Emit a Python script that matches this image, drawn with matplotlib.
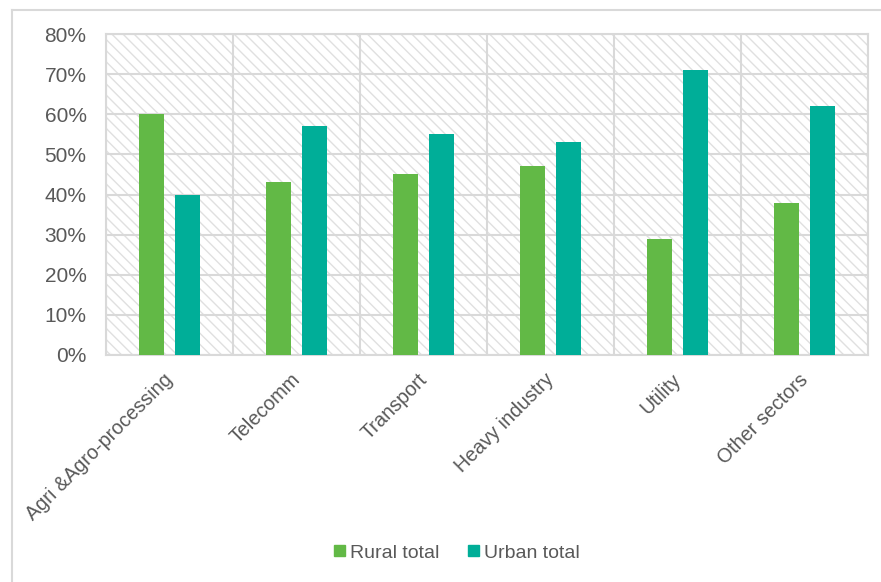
import matplotlib
matplotlib.use("Agg")
import matplotlib.pyplot as plt
import matplotlib.transforms as mtransforms
import numpy as np
from matplotlib.patches import Rectangle
from matplotlib.lines import Line2D

# Share of employment by sector, rural vs urban
categories = ["Agri &Agro-processing", "Telecomm", "Transport",
              "Heavy industry", "Utility", "Other sectors"]
rural_total = [60, 43, 45, 47, 29, 38]
urban_total = [40, 57, 55, 53, 71, 62]
y_ticks = [0, 10, 20, 30, 40, 50, 60, 70, 80]

GREEN = "#62B946"
TEAL = "#00AE98"
GRID = "#D9D9D9"
TEXT = "#595959"

plt.rcParams["font.family"] = ["Liberation Sans", "DejaVu Sans"]
plt.rcParams["hatch.color"] = "#E0E0E0"
plt.rcParams["hatch.linewidth"] = 1.0

fig = plt.figure(figsize=(8.81, 5.82), dpi=100)
W, H = 881, 582
ax = fig.add_axes([106 / W, 1 - 355 / H, (868 - 106) / W, (355 - 34) / H])

x = np.arange(len(categories))
bar_w = 0.195
offset = 0.142

# hatched plot background
ax.add_patch(Rectangle((0, 0), 1, 1, transform=ax.transAxes,
                       facecolor="white", edgecolor="#E0E0E0",
                       hatch="\\\\\\", linewidth=0, zorder=0))

ax.bar(x - offset, rural_total, width=bar_w, color=GREEN, zorder=3,
       label="Rural total")
ax.bar(x + offset, urban_total, width=bar_w, color=TEAL, zorder=3,
       label="Urban total")

ax.set_xlim(-0.5, len(categories) - 0.5)
ax.set_ylim(0, 80)
ax.set_yticks(y_ticks)
ax.set_yticklabels([f"{v}%" for v in y_ticks])
ax.set_xticks(x)
ax.set_xticklabels([])
ax.set_xticks(np.arange(len(categories) + 1) - 0.5, minor=True)

# rotated category labels, nudged a little left/down of the tick
shift = mtransforms.ScaledTranslation(-0.06, -0.15, fig.dpi_scale_trans)
for xi, name in zip(x, categories):
    ax.text(xi, 0, name, transform=ax.get_xaxis_transform() + shift,
            rotation=45, ha="right", va="top", rotation_mode="anchor",
            fontsize=14.2, color=TEXT)

ax.grid(axis="y", which="major", color=GRID, linewidth=1.5, zorder=1)
ax.grid(axis="x", which="minor", color=GRID, linewidth=1.5, zorder=1)
ax.set_axisbelow(True)

ax.tick_params(axis="both", which="both", length=0, labelcolor=TEXT)
ax.tick_params(axis="y", pad=14, labelsize=15)
for s in ax.spines.values():
    s.set_color(GRID)
    s.set_linewidth(1.5)

handles = [Rectangle((0, 0), 1, 1, color=GREEN),
           Rectangle((0, 0), 1, 1, color=TEAL)]
fig.legend(handles, ["Rural total", "Urban total"], loc="center",
           bbox_to_anchor=(457 / W, 1 - 553 / H), ncol=2, frameon=False,
           fontsize=14, labelcolor=TEXT, handlelength=0.55,
           handleheight=0.55, handletextpad=0.25, columnspacing=1.5)

# outer chart border (left and top only visible)
fig.add_artist(Line2D([12 / W, 12 / W], [0, 1 - 10 / H],
                      color="#D9D9D9", linewidth=1.5))
fig.add_artist(Line2D([12 / W, 1], [1 - 10 / H, 1 - 10 / H],
                      color="#D9D9D9", linewidth=1.5))

fig.savefig("out.png", dpi=100)
